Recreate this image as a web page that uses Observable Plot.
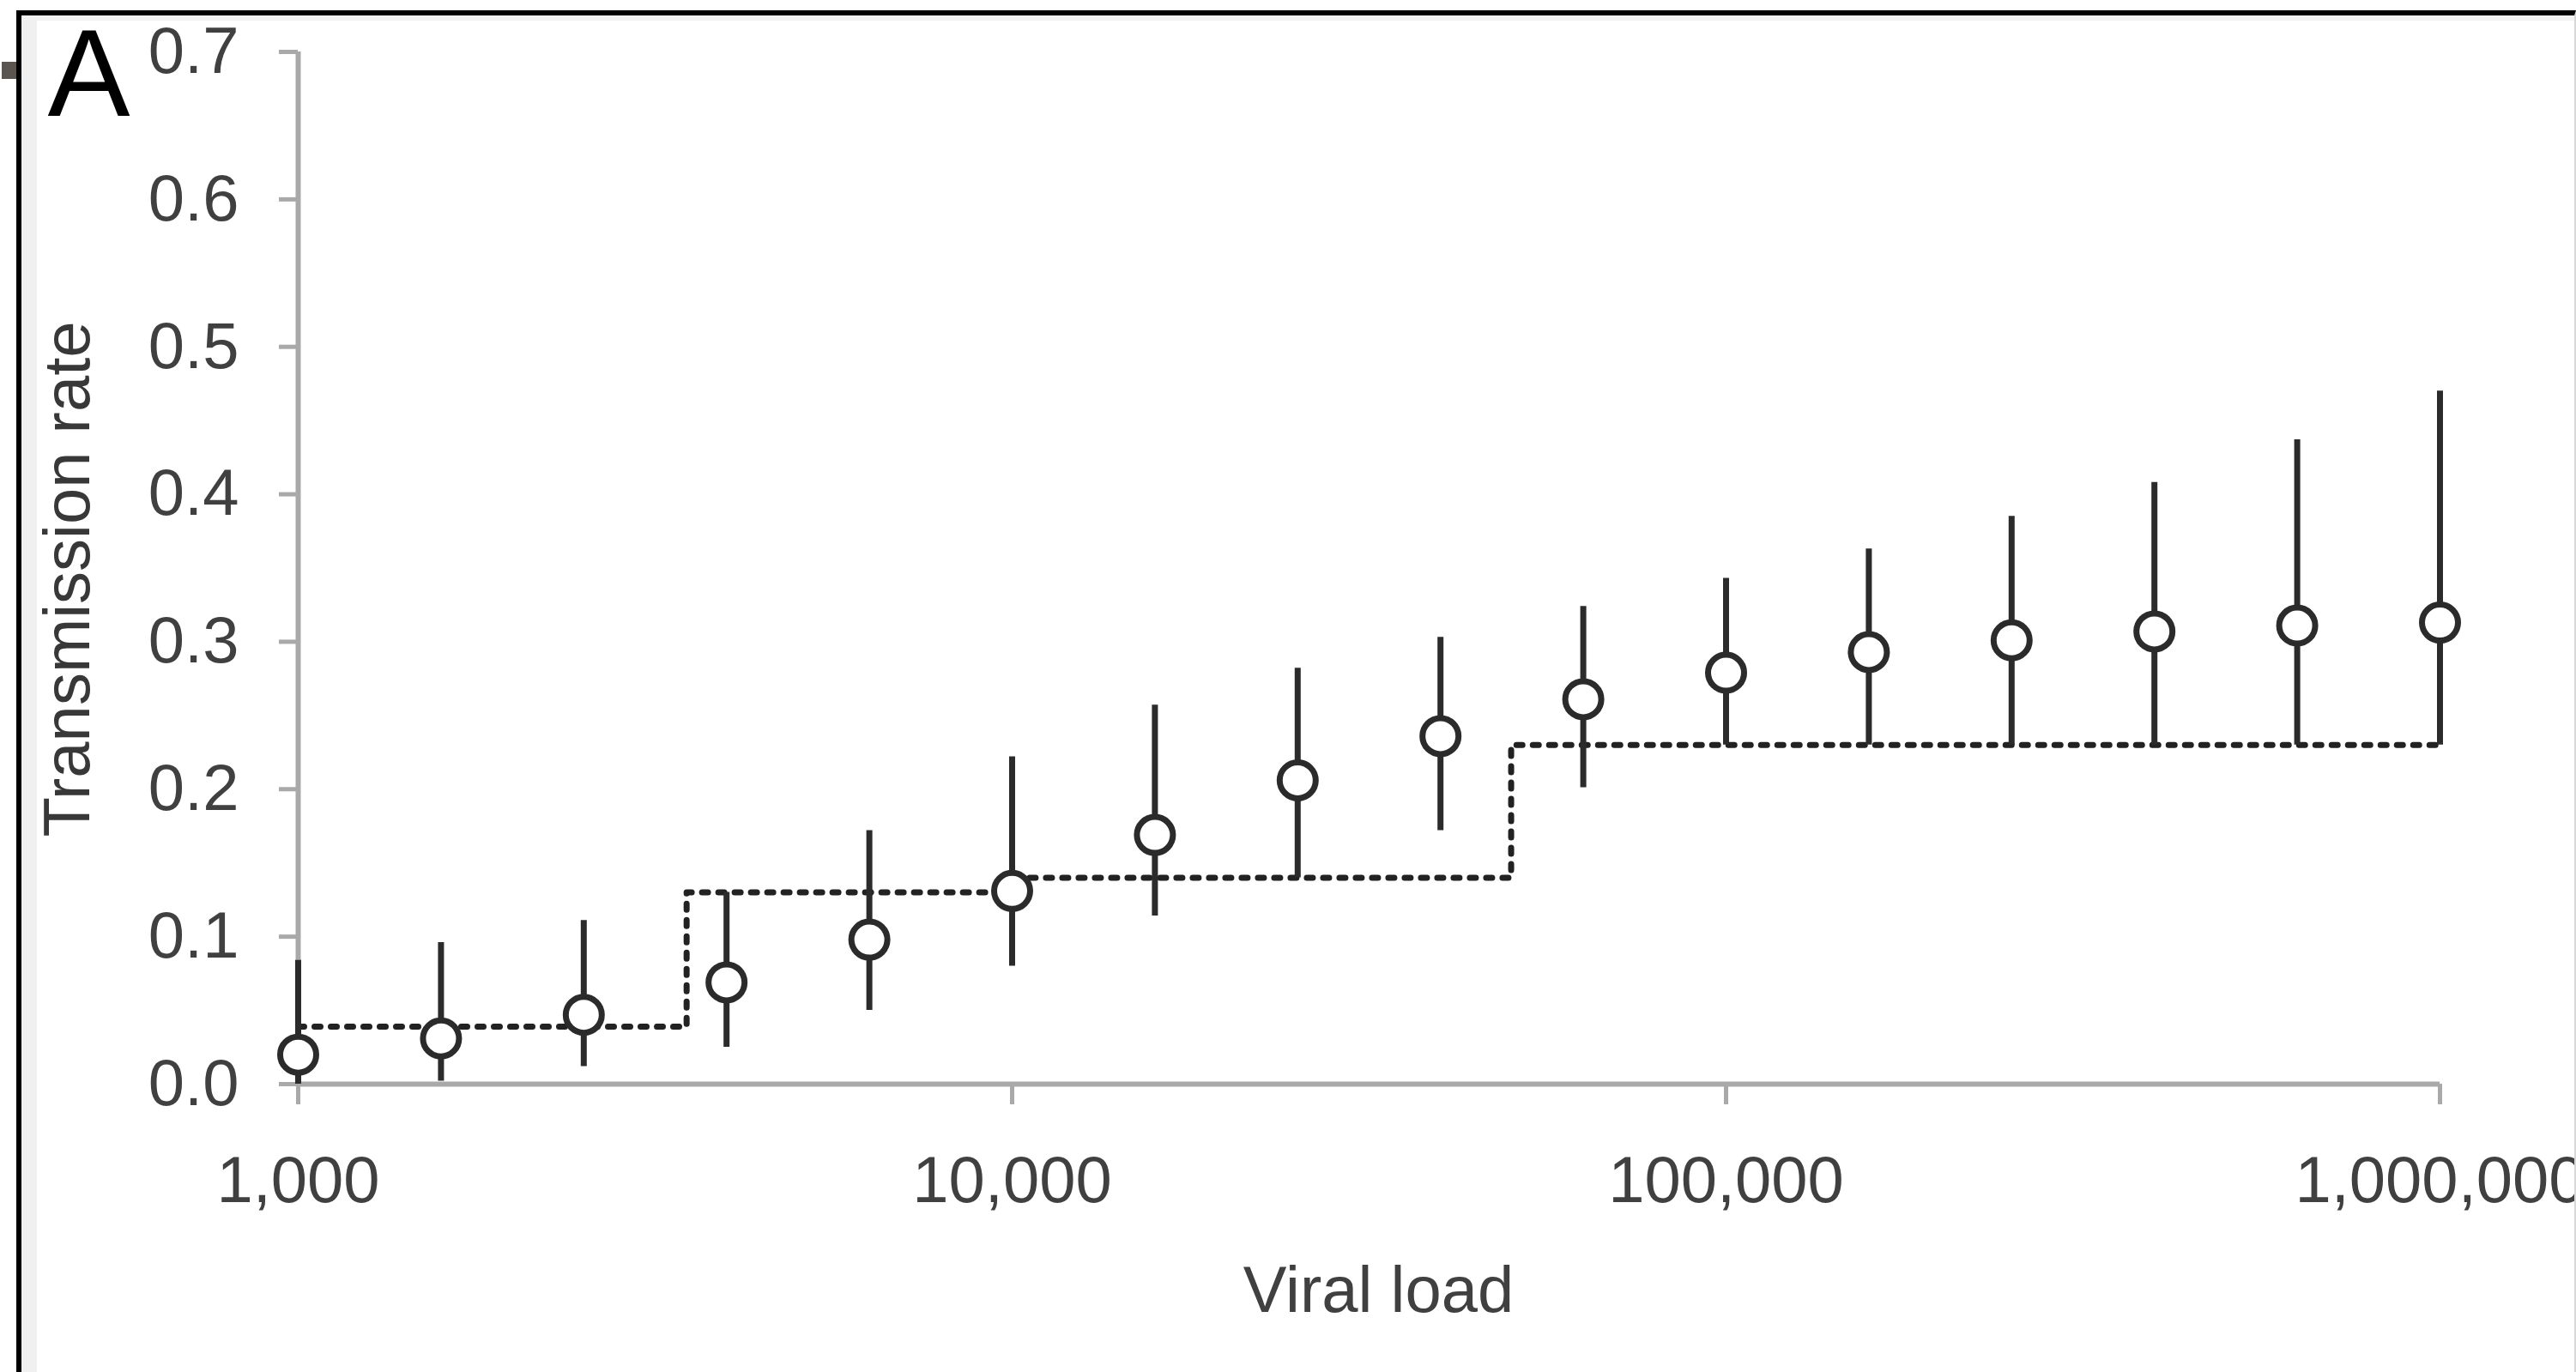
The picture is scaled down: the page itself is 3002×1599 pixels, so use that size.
<!DOCTYPE html>
<html><head><meta charset="utf-8">
<script src="https://cdn.jsdelivr.net/npm/d3@7"></script>
<script src="https://cdn.jsdelivr.net/npm/@observablehq/plot@0.6"></script>
<style>
html,body{margin:0;padding:0;background:#fff;}
#wrap{position:relative;width:3002px;height:1599px;overflow:hidden;background:#fff;}
#wrap svg{position:absolute;left:0;top:0;}
.ov{position:absolute;pointer-events:none;}
</style></head><body>
<div id="wrap">
  <div class="ov" style="left:25px;top:18px;width:18px;height:1600px;background:#f0f0f0;"></div>
  <div class="ov" style="left:25px;top:18px;width:2980px;height:6px;background:#f2f2f2;"></div>
</div>
<script>
// Data
const viralLoad = [1000, 1585, 2512, 3981, 6310, 10000, 15849, 25119, 39811, 63096, 100000, 158489, 251189, 398107, 630957, 1000000];
const rate  = [0.020, 0.031, 0.047, 0.069, 0.098, 0.131, 0.169, 0.206, 0.236, 0.261, 0.279, 0.293, 0.301, 0.307, 0.311, 0.313];
const lower = [0.000, 0.002, 0.012, 0.025, 0.050, 0.080, 0.114, 0.140, 0.172, 0.201, 0.230, 0.230, 0.230, 0.230, 0.230, 0.230];
const upper = [0.084, 0.096, 0.111, 0.130, 0.172, 0.222, 0.257, 0.282, 0.303, 0.324, 0.343, 0.363, 0.385, 0.408, 0.437, 0.470];

const stepX = [1000, 3500, 10000, 50000, 1000000];
const stepY = [0.039, 0.130, 0.140, 0.230, 0.230];

const xTicks = [1000, 10000, 100000, 1000000];
const yTicks = [0, 0.1, 0.2, 0.3, 0.4, 0.5, 0.6, 0.7];

const panelLabel = "A";
const xLabel = "Viral load";
const yLabel = "Transmission rate";

const points = viralLoad.map((v, i) => ({x: v, y: rate[i], lo: lower[i], hi: upper[i]}));
const steps = stepX.map((v, i) => ({x: v, y: stepY[i]}));

const axisGray = "#a9a9a9";

const chart = Plot.plot({
  width: 3002, height: 1599,
  marginLeft: 347, marginRight: 159, marginTop: 60, marginBottom: 336,
  style: {background: "transparent", fontFamily: "'Liberation Sans', Arial, sans-serif", overflow: "visible"},
  x: {type: "log", domain: [1000, 1000000]},
  y: {domain: [0, 0.7]},
  marks: [
    Plot.axisY({ticks: yTicks, tickFormat: d3.format(".1f"), tickSize: 22, tickPadding: 47, fontSize: 76,
      stroke: axisGray, fill: "#404040", strokeWidth: 5, label: null}),
    Plot.axisX({ticks: xTicks, tickFormat: d3.format(","), tickSize: 24, tickPadding: 60, fontSize: 76,
      stroke: axisGray, fill: "#404040", strokeWidth: 5, label: null}),
    Plot.ruleX([xTicks[0]], {stroke: axisGray, strokeWidth: 6}),
    Plot.ruleY([yTicks[0]], {stroke: axisGray, strokeWidth: 6}),
    Plot.line(steps, {x: "x", y: "y", curve: "step-after", stroke: "#222", strokeWidth: 7, strokeDasharray: "7,12"}),
    Plot.ruleX(points, {x: "x", y1: "lo", y2: "hi", stroke: "#2b2b2b", strokeWidth: 7}),
    Plot.dot(points, {x: "x", y: "y", r: 21, fill: "white", stroke: "#2b2b2b", strokeWidth: 7}),
    Plot.text([yLabel], {text: d => d, frameAnchor: "left", textAnchor: "middle", lineAnchor: "middle", rotate: -90,
      dx: -268, dy: 13, fontSize: 76, fill: "#383838"}),
    Plot.text([xLabel], {text: d => d, frameAnchor: "bottom", textAnchor: "middle", lineAnchor: "top",
      dx: 11, dy: 212, fontSize: 76, fill: "#404040"}),
    Plot.text([panelLabel], {text: d => d, frameAnchor: "top-left", textAnchor: "start", lineAnchor: "top",
      dx: -292, dy: -28, fontSize: 144, fill: "#000"})
  ]
});
// thicken axis ticks
chart.querySelectorAll('g[aria-label$="axis tick"]').forEach(g => {
  g.setAttribute("stroke-width", "5");
  g.setAttribute("stroke", axisGray);
  g.querySelectorAll("path,line").forEach(p => { p.setAttribute("stroke-width", "5"); });
});
const wrap = document.getElementById("wrap");
wrap.appendChild(chart);
// frame border and small marker
const border = document.createElement("div");
border.className = "ov";
border.style.cssText = "left:19px;top:12px;width:2975px;height:1600px;border-left:6px solid #000;border-top:6px solid #000;border-right:2px solid #d8d8d8;";
wrap.appendChild(border);
const marker = document.createElement("div");
marker.className = "ov";
marker.style.cssText = "left:2px;top:72px;width:17px;height:20px;background:#5a5550;";
wrap.appendChild(marker);
</script>
</body></html>
